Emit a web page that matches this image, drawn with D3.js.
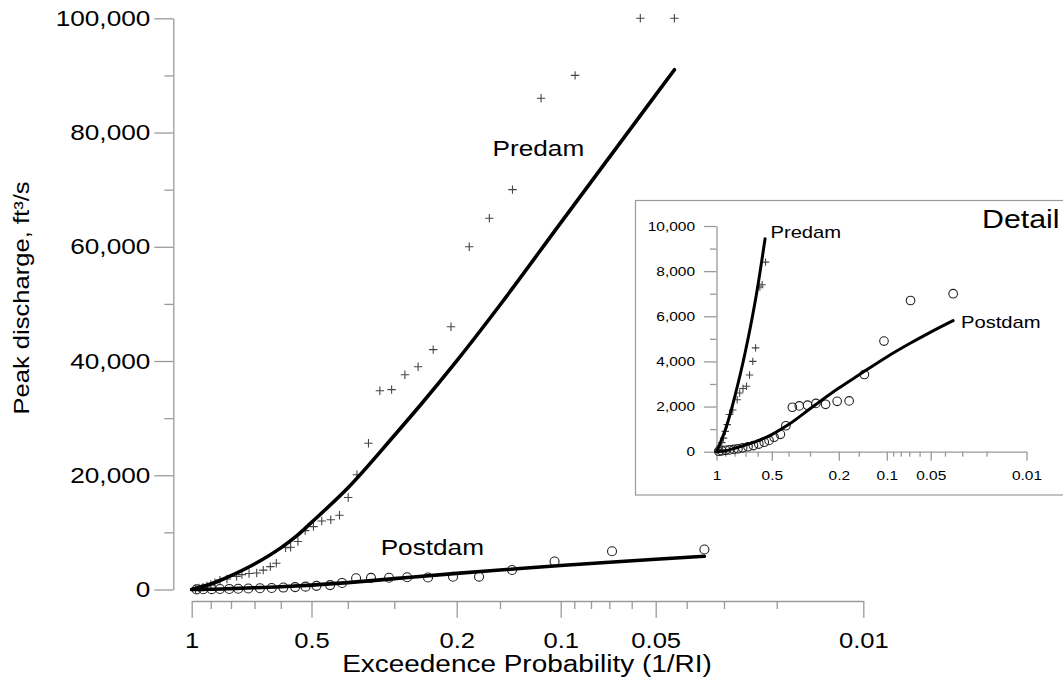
<!DOCTYPE html>
<html><head><meta charset="utf-8">
<script src="https://cdn.jsdelivr.net/npm/d3@7"></script>
<style>
body{margin:0;background:#fff}
svg{display:block}
text{font-family:"Liberation Sans",Arial,sans-serif;fill:#000}
</style>
</head><body>
<svg id="c" width="1063" height="679"></svg>
<script>
// ---------------- data ----------------
const majorProbs = [1, 0.5, 0.2, 0.1, 0.05, 0.01];
const minorProbs = [0.9, 0.8, 0.7, 0.6, 0.4, 0.3, 0.15, 0.09, 0.08, 0.07, 0.06, 0.04, 0.03, 0.02];
const yMajor = [0, 20000, 40000, 60000, 80000, 100000];
const yMinor = [10000, 30000, 50000, 70000, 90000];
const insetYMajor = [0, 2000, 4000, 6000, 8000, 10000];
const insetYMinor = [1000, 3000, 5000, 7000, 9000];

// Predam annual peaks (plotting position, ft3/s)
const predamProb = [0.0437,0.0562,0.0895,0.114,0.138,0.161,0.184,0.2075,0.233,0.257,
  0.280,0.305,0.328,0.352,0.378,0.399,0.421,0.444,0.4695,0.494,
  0.519,0.542,0.566,0.583,0.616,0.638,0.665,0.691,0.722,0.752,
  0.775,0.819,0.853,0.878,0.899,0.919,0.939,0.960,0.979];
const predamPeak = [100000,100000,90000,86000,70000,65000,60000,46000,42000,39000,
  37600,35000,34800,25600,20100,16100,13000,12200,12000,11000,
  10300,8400,7400,7300,4600,4000,3400,2900,2800,2600,
  2300,1850,1650,1200,900,600,400,250,100];

// Postdam annual peaks
const postdamProb = [0.0349,0.0687,0.1042,0.1384,0.1724,0.2048,0.241,0.276,0.310,0.3465,
  0.380,0.4144,0.446,0.485,0.518,0.551,0.591,0.633,0.678,0.725,
  0.768,0.808,0.853,0.895,0.938,0.973];
const postdamPeak = [7000,6700,4900,3420,2250,2230,2100,2140,2060,2030,
  1970,1150,770,640,500,420,340,270,220,170,
  130,100,80,60,40,20];

// Fitted frequency curves
const predamFitProb = [1,0.95,0.9,0.85,0.8,0.7,0.6,0.545,0.5,0.4,0.3,0.25,0.2,0.15,0.1,0.07,0.05,0.0437];
const predamFitPeak = [0,440,960,1620,2420,4460,7290,9440,11750,17770,26970,32700,40020,49810,64190,75650,86600,91000];
const postdamFitProb = [1,0.9,0.8,0.7,0.6,0.5,0.4,0.3,0.2,0.15,0.1,0.07,0.05,0.0349];
const postdamFitPeak = [0,40,150,300,480,760,1200,1900,2818,3400,4200,4780,5300,5810];

// ---------------- layout ----------------
const K = 1.19; // horizontal text stretch of the original figure
const allProbs = [1,0.9,0.8,0.7,0.6,0.5,0.4,0.3,0.2,0.15,0.1,0.09,0.08,0.07,0.06,0.05,0.04,0.03,0.02,0.01];
const xPix = [191.7,210.7,231,254.5,280.8,311.5,347.8,394.3,456.7,500,560.7,574.3,591,609.3,631.7,655.7,686.7,724,776.7,863.3];

const x = d3.scaleLog().domain(allProbs).range(xPix);
const y = d3.scaleLinear().domain([0, 100000]).range([589.5, 18.3]);

const insetX0 = 716.5, insetK = 0.4616;
const xi = d3.scaleLog().domain(allProbs).range(xPix.map(v => insetX0 + (v - xPix[0]) * insetK));
const yi = d3.scaleLinear().domain([0, 10000]).range([451.7, 226]);

const svg = d3.select("#c");
const AX = "#9a9a9a";

function styleAxis(g, size) {
  g.selectAll("path,line").attr("stroke", AX).attr("stroke-width", 1.3);
  g.attr("font-family", '"Liberation Sans",Arial,sans-serif').attr("font-size", size);
  g.selectAll("text").attr("fill", "#000");
}
function stretchBottom(g) { g.selectAll("text").attr("transform", `scale(${K},1)`); }
function stretchLeft(g) {
  g.selectAll("text").each(function () {
    const t = d3.select(this);
    t.attr("x", (+t.attr("x")) / K).attr("transform", `scale(${K},1)`);
  });
}
function label(xp, yp, txt, size, anchor, rot) {
  return svg.append("text")
    .attr("transform", `translate(${xp},${yp})${rot ? " rotate(" + rot + ")" : ""} scale(${K},1)`)
    .attr("text-anchor", anchor).attr("font-size", size).text(txt);
}

// ---------------- main axes ----------------
const gxm = svg.append("g").attr("transform", "translate(0,601)")
  .call(d3.axisBottom(x).tickValues(minorProbs).tickSize(8).tickSizeOuter(0).tickFormat(""));
gxm.select(".domain").remove(); styleAxis(gxm, 21.5);
const gx = svg.append("g").attr("transform", "translate(0,601)")
  .call(d3.axisBottom(x).tickValues(majorProbs).tickSize(16.7).tickSizeOuter(0).tickPadding(15).tickFormat(d => String(d)));
styleAxis(gx, 21.5); stretchBottom(gx);

const gym = svg.append("g").attr("transform", "translate(173.3,0)")
  .call(d3.axisLeft(y).tickValues(yMinor).tickSize(9).tickSizeOuter(0).tickFormat(""));
gym.select(".domain").remove(); styleAxis(gym, 22);
const gy = svg.append("g").attr("transform", "translate(173.3,0)")
  .call(d3.axisLeft(y).tickValues(yMajor).tickSize(19).tickSizeOuter(0).tickPadding(4).tickFormat(d3.format(",")));
styleAxis(gy, 22); stretchLeft(gy);

label(527, 671.5, "Exceedence Probability (1/RI)", 23.5, "middle");
label(28.5, 298, "Peak discharge, ft³/s", 21.5, "middle", -90);

// ---------------- main marks ----------------
const predamPts = predamProb.map((p, i) => [p, predamPeak[i]]);
const postdamPts = postdamProb.map((p, i) => [p, postdamPeak[i]]);
const predamFit = predamFitProb.map((p, i) => [p, predamFitPeak[i]]);
const postdamFit = postdamFitProb.map((p, i) => [p, postdamFitPeak[i]]);

function drawCrosses(g, pts, xs, ys, h) {
  g.selectAll(null).data(pts).enter().append("path")
    .attr("d", d => `M${xs(d[0]) - h},${ys(d[1])}H${xs(d[0]) + h}M${xs(d[0])},${ys(d[1]) - h}V${ys(d[1]) + h}`)
    .attr("stroke", "#444").attr("stroke-width", 1.1).attr("fill", "none");
}
function drawCircles(g, pts, xs, ys, r) {
  g.selectAll(null).data(pts).enter().append("circle")
    .attr("cx", d => xs(d[0])).attr("cy", d => ys(d[1])).attr("r", r)
    .attr("stroke", "#222").attr("stroke-width", 1.1).attr("fill", "none");
}
function drawCurve(g, pts, xs, ys, w) {
  g.append("path").datum(pts)
    .attr("d", d3.line().x(d => xs(d[0])).y(d => ys(d[1])).curve(d3.curveMonotoneX))
    .attr("stroke", "#000").attr("stroke-width", w).attr("fill", "none").attr("stroke-linecap", "round");
}

const gm = svg.append("g");
drawCircles(gm, postdamPts, x, y, 4.5);
drawCrosses(gm, predamPts, x, y, 4.2);
drawCurve(gm, predamFit, x, y, 3.6);
drawCurve(gm, postdamFit, x, y, 3.6);

label(538.4, 156, "Predam", 22, "middle");
label(432.3, 555, "Postdam", 22, "middle");

// ---------------- inset ----------------
svg.append("rect").attr("x", 635.5).attr("y", 200.5).attr("width", 500).attr("height", 294.5)
  .attr("fill", "#fff").attr("stroke", AX).attr("stroke-width", 1.2);

const gixm = svg.append("g").attr("transform", "translate(0,451.7)")
  .call(d3.axisBottom(xi).tickValues(minorProbs).tickSize(5).tickSizeOuter(0).tickFormat(""));
gixm.select(".domain").remove(); styleAxis(gixm, 13);
const gix = svg.append("g").attr("transform", "translate(0,451.7)")
  .call(d3.axisBottom(xi).tickValues(majorProbs).tickSize(9).tickSizeOuter(0).tickPadding(9.6).tickFormat(d => String(d)));
styleAxis(gix, 13); stretchBottom(gix);

const giym = svg.append("g").attr("transform", `translate(${insetX0},0)`)
  .call(d3.axisLeft(yi).tickValues(insetYMinor).tickSize(6.5).tickSizeOuter(0).tickFormat(""));
giym.select(".domain").remove(); styleAxis(giym, 13);
const giy = svg.append("g").attr("transform", `translate(${insetX0},0)`)
  .call(d3.axisLeft(yi).tickValues(insetYMajor).tickSize(12.5).tickSizeOuter(0).tickPadding(9).tickFormat(d3.format(",")));
styleAxis(giy, 13); stretchLeft(giy);

const gi = svg.append("g");
drawCircles(gi, postdamPts.filter(d => d[1] <= 10000), xi, yi, 4.3);
drawCrosses(gi, predamPts.filter(d => d[1] <= 10000), xi, yi, 3.7);
drawCurve(gi, predamFit.filter(d => d[1] <= 9440), xi, yi, 3);
drawCurve(gi, postdamFit, xi, yi, 3);

label(805.8, 238.3, "Predam", 17, "middle");
label(1000.8, 328.3, "Postdam", 17, "middle");
label(982, 228.3, "Detail", 25.5, "start");
</script>
</body></html>
